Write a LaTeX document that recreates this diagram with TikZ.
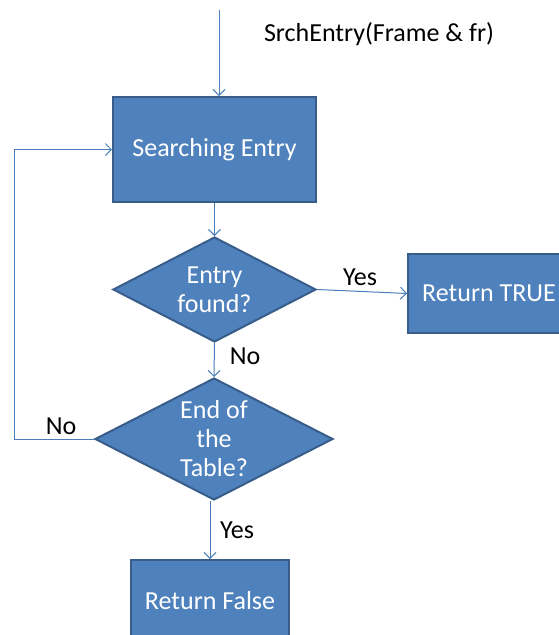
\documentclass[tikz,border=0pt]{standalone}
\usepackage{fontspec}
\setmainfont{Carlito}
\usetikzlibrary{shapes.geometric,arrows.meta}
\definecolor{boxfill}{HTML}{4F81BD}
\definecolor{boxline}{HTML}{385D8A}
\definecolor{wirecol}{HTML}{4A7EBB}
\begin{document}
\begin{tikzpicture}[x=1pt,y=-1pt,
  font=\fontsize{26}{29}\selectfont,
  proc/.style={rectangle,draw=boxline,line width=2pt,fill=boxfill,text=white,inner sep=0pt,align=center},
  decision/.style={diamond,draw=boxline,line width=2pt,fill=boxfill,text=white,inner sep=0pt,aspect=2,align=center},
  wire/.style={draw=wirecol,line width=1pt,-{Straight Barb[length=6pt,width=12pt]}},
  lbl/.style={text=black,inner sep=0pt}]
\useasboundingbox (0,0) rectangle (558,635);

% process boxes
\node[proc,minimum width=203pt,minimum height=105pt] (se) at (214.5,149.5) {Searching Entry};
\node[proc,minimum width=162pt,minimum height=79pt] (rt) at (489,293.5) {Return TRUE};
\node[proc,minimum width=158pt,minimum height=82pt] (rf) at (210,601) {Return False};

% decisions
\node[decision,minimum width=203pt,minimum height=105pt] (d1) at (214.5,289.5) {Entry\\found?};
\node[decision,minimum width=238pt,minimum height=122pt] (d2) at (214,439) {End of\\the\\Table?};

% function entry
\coordinate (entry) at (219,10);
\node[lbl] (sig) at (379,34) {SrchEntry(Frame \& fr)};
\draw[wire] (entry) -- (entry |- se.north);

% connectors
\draw[wire] (se.south) -- (d1.north);
\draw[wire] (d1.east) -- (rt.west);
\draw[wire] (d1.south) -- (d2.north);
\draw[wire] (d2.south -| rf.north) -- (rf.north);
\coordinate (loopx) at (14,0);
\draw[wire] (d2.west) -- (d2.west -| loopx) |- (se.west);

% branch labels
\node[lbl] (yes1) at (360,277) {Yes};
\node[lbl] (no1) at (245,356) {No};
\node[lbl] (no2) at (61,426) {No};
\node[lbl] (yes2) at (237,530) {Yes};
\end{tikzpicture}
\end{document}
